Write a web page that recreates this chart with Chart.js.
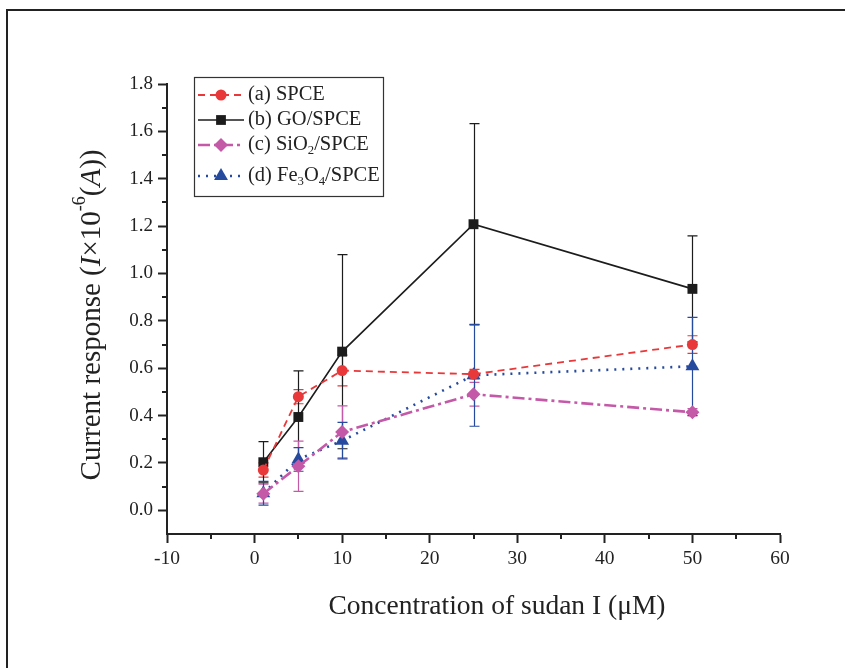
<!DOCTYPE html>
<html>
<head>
<meta charset="utf-8">
<script src="https://cdn.jsdelivr.net/npm/chart.js@4.4.1/dist/chart.umd.min.js"></script>
<style>
  html, body { margin: 0; padding: 0; background: #fff; }
  #wrap { position: relative; width: 845px; height: 668px; }
  #frame { position: absolute; left: 6px; top: 9px; right: 0; bottom: 0;
           border-top: 2px solid #222; border-left: 2px solid #222; pointer-events: none; }
  canvas { position: absolute; left: 0; top: 0; }
</style>
</head>
<body>
<div id="wrap">
  <canvas id="chart" width="845" height="668"></canvas>
  <div id="frame"></div>
</div>
<script>
// concentration of sudan I (uM)
const concentrations = [1, 5, 10, 25, 50];

// current response (x 1e-6 A) and standard deviations
const spce = [0.17, 0.48, 0.59, 0.575, 0.70];
const spceErr = [0.03, 0.03, 0.065, 0.02, 0.037];
const goSpce = [0.203, 0.394, 0.67, 1.208, 0.935];
const goSpceErr = [0.087, 0.195, 0.41, 0.425, 0.224];
const sio2Spce = [0.07, 0.186, 0.331, 0.49, 0.414];
const sio2SpceErr = [0.04, 0.106, 0.11, 0.05, 0.015];
const fe3o4Spce = [0.072, 0.215, 0.294, 0.57, 0.608];
const fe3o4SpceErr = [0.05, 0.05, 0.077, 0.215, 0.207];

const xTicks = [-10, 0, 10, 20, 30, 40, 50, 60];
const xMinorTicks = [-5, 5, 15, 25, 35, 45, 55];
const yTicks = [0.0, 0.2, 0.4, 0.6, 0.8, 1.0, 1.2, 1.4, 1.6, 1.8];
const yMinorTicks = [0.1, 0.3, 0.5, 0.7, 0.9, 1.1, 1.3, 1.5, 1.7];

const FONT = "'Liberation Serif', 'Times New Roman', serif";
const AXIS = '#222';

// legend label pieces: [text, 'n' normal | 'sub' subscript]
const series = [
  { label: [['(a) SPCE', 'n']], data: spce, err: spceErr, color: '#e8383a',
    dash: [7, 5], width: 1.8, style: 'circle', radius: 5.5 },
  { label: [['(b) GO/SPCE', 'n']], data: goSpce, err: goSpceErr, color: '#1c1c1c',
    dash: [], width: 1.6, style: 'rect', radius: 7 },
  { label: [['(c) SiO', 'n'], ['2', 'sub'], ['/SPCE', 'n']], data: sio2Spce, err: sio2SpceErr, color: '#c459a8',
    dash: [12, 4, 3, 4], width: 2.6, style: 'rectRot', radius: 7 },
  { label: [['(d) Fe', 'n'], ['3', 'sub'], ['O', 'n'], ['4', 'sub'], ['/SPCE', 'n']], data: fe3o4Spce, err: fe3o4SpceErr, color: '#264a9e',
    dash: [2, 6], width: 2.6, style: 'triangle', radius: 8 }
];

function drawMarker(ctx, style, r, x, y, color) {
  ctx.save();
  ctx.fillStyle = color;
  ctx.beginPath();
  if (style === 'circle') {
    ctx.arc(x, y, r, 0, Math.PI * 2);
  } else if (style === 'rect') {
    ctx.rect(x - r * 0.7, y - r * 0.7, r * 1.4, r * 1.4);
  } else if (style === 'rectRot') {
    ctx.moveTo(x, y - r); ctx.lineTo(x + r, y);
    ctx.lineTo(x, y + r); ctx.lineTo(x - r, y);
    ctx.closePath();
  } else if (style === 'triangle') {
    ctx.moveTo(x, y - r); ctx.lineTo(x + r * 0.87, y + r * 0.5);
    ctx.lineTo(x - r * 0.87, y + r * 0.5); ctx.closePath();
  }
  ctx.fill();
  ctx.restore();
}

// draws a run of text pieces starting at x, returns end x
function drawPieces(ctx, pieces, x, y, size) {
  for (const [t, kind] of pieces) {
    let dy = 0, fs = size, style = '';
    if (kind === 'sub') { fs = size * 0.62; dy = size * 0.3; }
    if (kind === 'sup') { fs = size * 0.62; dy = -size * 0.42; }
    if (kind === 'i') { style = 'italic '; }
    ctx.font = style + fs + 'px ' + FONT;
    ctx.fillText(t, x, y + dy);
    x += ctx.measureText(t).width;
  }
  return x;
}

function piecesWidth(ctx, pieces, size) {
  let w = 0;
  for (const [t, kind] of pieces) {
    let fs = size, style = '';
    if (kind === 'sub' || kind === 'sup') fs = size * 0.62;
    if (kind === 'i') style = 'italic ';
    ctx.font = style + fs + 'px ' + FONT;
    w += ctx.measureText(t).width;
  }
  return w;
}

const decorations = {
  id: 'decorations',
  beforeDatasetsDraw(chart) {
    const ctx = chart.ctx;
    const xs = chart.scales.x, ys = chart.scales.y;
    // error bars
    series.forEach(s => {
      ctx.save();
      ctx.strokeStyle = s.color;
      ctx.lineWidth = 1.2;
      s.data.forEach((v, j) => {
        const px = Math.round(xs.getPixelForValue(concentrations[j])) + 0.5;
        const top = ys.getPixelForValue(v + s.err[j]);
        const bot = ys.getPixelForValue(v - s.err[j]);
        ctx.beginPath();
        ctx.moveTo(px, top); ctx.lineTo(px, bot);
        ctx.moveTo(px - 5, top); ctx.lineTo(px + 5, top);
        ctx.moveTo(px - 5, bot); ctx.lineTo(px + 5, bot);
        ctx.stroke();
      });
      ctx.restore();
    });
  },
  afterDraw(chart) {
    const ctx = chart.ctx;
    const xs = chart.scales.x, ys = chart.scales.y;
    const area = chart.chartArea;

    // minor ticks
    ctx.save();
    ctx.strokeStyle = AXIS;
    ctx.lineWidth = 2;
    ctx.beginPath();
    xMinorTicks.forEach(v => {
      const px = Math.round(xs.getPixelForValue(v));
      ctx.moveTo(px, area.bottom); ctx.lineTo(px, area.bottom + 5);
    });
    yMinorTicks.forEach(v => {
      const py = Math.round(ys.getPixelForValue(v));
      ctx.moveTo(area.left, py); ctx.lineTo(area.left - 5, py);
    });
    ctx.stroke();
    ctx.restore();

    // legend
    ctx.save();
    ctx.strokeStyle = '#333';
    ctx.lineWidth = 1.2;
    ctx.strokeRect(194.5, 77.5, 189, 119);
    const rowY = [95, 120, 145, 176];
    series.forEach((s, i) => {
      const y = rowY[i];
      ctx.save();
      ctx.strokeStyle = s.color;
      ctx.lineWidth = s.width;
      ctx.setLineDash(s.dash);
      ctx.beginPath();
      ctx.moveTo(198, y); ctx.lineTo(244, y);
      ctx.stroke();
      ctx.restore();
      drawMarker(ctx, s.style, s.radius, 221, y, s.color);
      ctx.fillStyle = '#222';
      ctx.textBaseline = 'middle';
      drawPieces(ctx, s.label, 248, y, 20.5);
    });
    ctx.restore();

    // axis titles
    ctx.save();
    ctx.fillStyle = '#222';
    ctx.textBaseline = 'middle';
    const xTitle = [['Concentration of sudan I (\u03bcM)', 'n']];
    const xw = piecesWidth(ctx, xTitle, 27.5);
    drawPieces(ctx, xTitle, 497 - xw / 2, 607, 27.5);

    const yTitle = [['Current response (', 'n'], ['I', 'i'], ['\u00d710', 'n'], ['-6', 'sup'],
                    ['(', 'n'], ['A', 'i'], ['))', 'n']];
    const yw = piecesWidth(ctx, yTitle, 29);
    ctx.translate(92, 315);
    ctx.rotate(-Math.PI / 2);
    drawPieces(ctx, yTitle, -yw / 2, 0, 29);
    ctx.restore();
  }
};

const datasets = series.map(s => ({
  data: concentrations.map((c, j) => ({ x: c, y: s.data[j] })),
  borderColor: s.color,
  backgroundColor: s.color,
  borderWidth: s.width,
  borderDash: s.dash,
  pointStyle: s.style,
  pointRadius: s.radius,
  pointHoverRadius: s.radius,
  pointBorderWidth: 0,
  tension: 0,
  fill: false
}));

new Chart(document.getElementById('chart'), {
  type: 'line',
  data: { datasets },
  options: {
    responsive: false,
    animation: false,
    devicePixelRatio: 1,
    layout: { padding: { left: 107, right: 65, top: 84, bottom: 84 } },
    plugins: { legend: { display: false }, tooltip: { enabled: false } },
    scales: {
      x: {
        type: 'linear', min: -10, max: 60,
        afterBuildTicks: s => { s.ticks = xTicks.map(v => ({ value: v })); },
        afterFit: s => { s.height = 50; },
        grid: { drawOnChartArea: false, tickLength: 9, tickWidth: 2, tickColor: AXIS },
        border: { color: AXIS, width: 2 },
        ticks: { color: '#222', font: { family: FONT, size: 19.5 }, padding: 4,
                 maxRotation: 0, autoSkip: false, callback: v => String(v) }
      },
      y: {
        type: 'linear', min: -0.1, max: 1.8,
        afterBuildTicks: s => { s.ticks = yTicks.map(v => ({ value: v })); },
        afterFit: s => { s.width = 60; },
        grid: { drawOnChartArea: false, tickLength: 9, tickWidth: 2, tickColor: AXIS },
        border: { color: AXIS, width: 2 },
        ticks: { color: '#222', font: { family: FONT, size: 19 }, padding: 5,
                 autoSkip: false, callback: v => v.toFixed(1) }
      }
    }
  },
  plugins: [decorations]
});
</script>
</body>
</html>
